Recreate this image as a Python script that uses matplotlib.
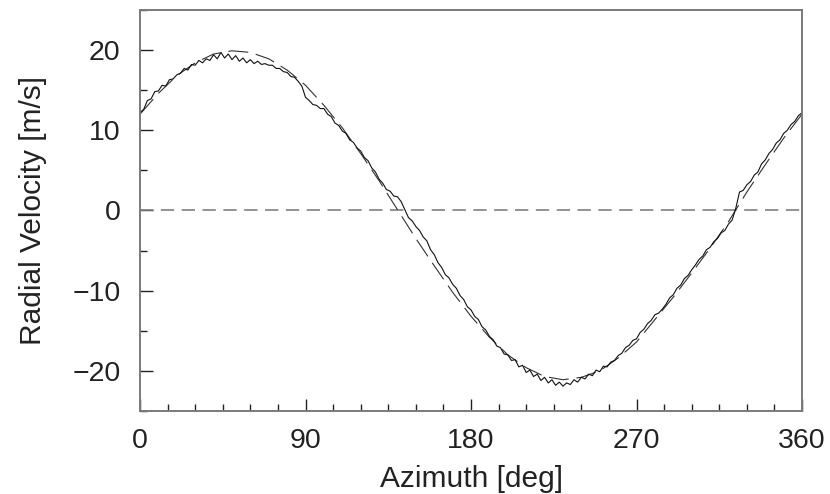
import matplotlib

matplotlib.use("Agg")
import matplotlib.pyplot as plt
from matplotlib.ticker import FuncFormatter, MultipleLocator

# measured radial velocity, sampled every 2 deg of azimuth
azimuth = list(range(0, 361, 2))
velocity = [
    12.2, 12.6, 13.7, 13.9, 14.8, 14.9, 15.6, 15.5, 16.3, 16.4,
    16.9, 17.1, 17.7, 17.5, 18.2, 18.1, 18.7, 18.4, 18.9, 18.7,
    19.4, 18.9, 19.7, 19.0, 19.5, 18.8, 19.3, 18.6, 19.0, 18.4,
    18.8, 18.3, 18.6, 18.2, 18.3, 18.1, 18.1, 17.7, 17.7, 17.3,
    17.2, 16.7, 16.6, 16.1, 15.5, 14.1, 13.7, 13.2, 13.1, 12.7,
    12.7, 12.0, 11.7, 10.9, 10.6, 9.9, 9.6, 8.8, 8.5, 7.8,
    7.4, 6.6, 6.2, 5.3, 4.8, 3.9, 3.4, 2.6, 2.4, 1.8,
    1.7, 1.1, 0.1, -0.9, -1.3, -2.0, -2.5, -3.3, -3.8, -4.9,
    -5.5, -6.5, -7.1, -8.0, -8.4, -9.2, -9.7, -10.6, -11.1, -12.0,
    -12.4, -13.2, -13.6, -14.5, -14.9, -15.7, -16.1, -16.9, -17.1, -17.9,
    -18.0, -18.7, -18.6, -19.5, -19.3, -20.2, -19.9, -20.7, -20.4, -21.2,
    -20.8, -21.5, -21.1, -21.8, -21.4, -21.9, -21.5, -21.7, -21.1, -21.4,
    -20.8, -21.0, -20.4, -20.6, -19.9, -20.1, -19.4, -19.5, -18.9, -18.7,
    -18.1, -17.8, -17.1, -16.8, -16.2, -16.0, -15.2, -14.8, -14.1, -13.7,
    -13.0, -12.8, -12.3, -11.7, -10.9, -10.5, -9.7, -9.3, -8.5, -8.1,
    -7.4, -6.8, -6.1, -5.7, -4.9, -4.6, -3.9, -3.5, -2.8, -2.5,
    -1.7, -1.2, 0.3, 2.3, 2.5, 3.2, 3.6, 4.4, 4.8, 5.8,
    6.3, 7.1, 7.6, 8.4, 8.8, 9.6, 10.0, 10.7, 11.1, 11.8,
    12.2,
]

# fitted curve, every 10 deg
fit_azimuth = list(range(0, 361, 10))
fit_velocity = [
    12.0, 14.6, 16.8, 18.4, 19.5, 19.9, 19.7, 18.9, 17.5, 15.6,
    13.1, 10.3, 7.1, 3.7, 0.1, -3.5, -6.9, -10.2, -13.2, -15.8,
    -18.0, -19.6, -20.7, -21.1, -20.8, -20.0, -18.4, -16.4, -13.6, -10.8,
    -7.8, -4.7, -1.4, 2.3, 5.7, 9.0, 12.0,
]

x_ticks = [0, 90, 180, 270, 360]
y_ticks = [-20, -10, 0, 10, 20]

plt.rcParams.update(
    {
        "font.family": ["Liberation Sans", "DejaVu Sans"],
        "font.size": 20,
        "text.color": "#222222",
        "axes.labelcolor": "#222222",
        "xtick.color": "#222222",
        "ytick.color": "#222222",
    }
)

fig = plt.figure(figsize=(8.3, 4.94), dpi=100)
ax = fig.add_axes([0.1687, 0.168, 0.7976, 0.812])

ax.axhline(0, color="#808080", linewidth=1.2, dashes=(8, 4.5))
ax.plot(fit_azimuth, fit_velocity, color="#333333", linewidth=0.8, dashes=(18, 7))
ax.plot(azimuth, velocity, color="#111111", linewidth=0.8)

ax.set_xlim(0, 360)
ax.set_ylim(-25, 25)
ax.set_xticks(x_ticks)
ax.set_yticks(y_ticks)
ax.xaxis.set_minor_locator(MultipleLocator(15))
ax.yaxis.set_minor_locator(MultipleLocator(5))
ax.yaxis.set_major_formatter(FuncFormatter(lambda v, p: f"{v:.0f}".replace("-", "\u2212")))

ax.tick_params(which="both", direction="in", top=False, right=False)
ax.tick_params(which="major", length=9, width=1.0, labelsize=20.5)
ax.tick_params(axis="x", which="major", pad=12)
ax.tick_params(axis="y", which="major", pad=14)
ax.tick_params(which="minor", length=5, width=1.0)

for spine in ax.spines.values():
    spine.set_color("#7a7a7a")
    spine.set_linewidth(1.4)

ax.set_xlabel("Azimuth [deg]", fontsize=21.5, labelpad=8)
ax.set_ylabel("Radial Velocity [m/s]", fontsize=21.5, labelpad=18)

fig.savefig("out.png", dpi=100)
